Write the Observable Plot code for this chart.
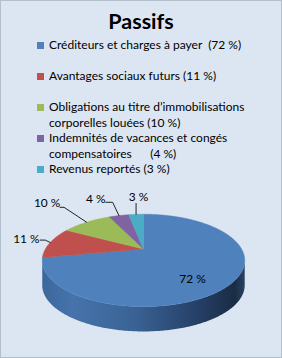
<!DOCTYPE html>
<html><head><meta charset="utf-8">
<script src="https://cdn.jsdelivr.net/npm/d3@7"></script>
<script src="https://cdn.jsdelivr.net/npm/@observablehq/plot@0.6"></script>
<style>
html,body{margin:0;padding:0;background:#fff;}
#frame{position:relative;width:282px;height:358px;box-sizing:border-box;border:1px solid #b4bfcc;background:#dce6f2;font-family:Lato, sans-serif;color:#000;overflow:hidden;}
#title{position:absolute;left:0;width:280px;top:7px;text-align:center;font-weight:bold;font-size:21.5px;line-height:26px;}
.leg{position:absolute;left:36px;font-size:12px;line-height:16px;white-space:pre;}
.sw{position:absolute;left:0;top:2px;width:7px;height:7px;}
.tx{position:absolute;left:12px;top:-3px;}
#chart{position:absolute;left:0;top:180px;}
</style></head>
<body>
<div id="frame">
  <div id="title">Passifs</div>
  <div id="legend"></div>
  <div id="chart"></div>
</div>
<script>
// ---- data ----
const categories = [
  "Créditeurs et charges à payer",
  "Avantages sociaux futurs",
  "Obligations au titre d’immobilisations corporelles louées",
  "Indemnités de vacances et congés compensatoires",
  "Revenus reportés"
];
const shares = [72, 11, 10, 4, 3];
const legendLabels = [
  "Créditeurs et charges à payer  (72 %)",
  "Avantages sociaux futurs (11 %)",
  "Obligations au titre d’immobilisations\ncorporelles louées (10 %)",
  "Indemnités de vacances et congés\ncompensatoires      (4 %)",
  "Revenus reportés (3 %)"
];
const sliceLabels = ["72 %", "11 %", "10 %", "4 %", "3 %"];
const colors = ["#4f81bd", "#c0504d", "#9bbb59", "#8064a2", "#4bacc6"];

// ---- layout (styling only) ----
const legendTops = [39, 70, 101, 132, 163];
const labelOffsets = [[-41, -3], [-24, -3.4], [-39.7, -19], [-23.3, -16.4], [2.5, -17]];
const leaderElbows = [[], [[-10, -2.4], [-5, -2.4]], [[-26.7, -15], [-22.7, -15]], [[-13.3, -13.4], [-6.3, -13.4]], [[0, -11]]];

// legend (HTML)
const leg = d3.select("#legend");
legendLabels.forEach((t, i) => {
  const e = leg.append("div").attr("class", "leg").style("top", legendTops[i] + "px");
  e.append("div").attr("class", "sw").style("background", colors[i]);
  e.append("div").attr("class", "tx").text(t);
});

// pie geometry (perspective ellipse)
const A = 98.8, B = 43.7, K = 0.247, DEPTH = 25, CX = 143, CY = 68;
function proj(t) { const u = Math.sin(t), v = Math.cos(t), d = 1 + K * v; return [A * u / d, B * v / d]; }

const arcs = d3.pie().sort(null).startAngle(0).endAngle(2 * Math.PI)(shares);

const slicePts = [];
arcs.forEach((a, i) => {
  slicePts.push({cat: categories[i], x: 0, y: 0});
  const n = Math.max(2, Math.ceil((a.endAngle - a.startAngle) / 0.01));
  for (let j = 0; j <= n; j++) {
    const t = a.startAngle + (a.endAngle - a.startAngle) * j / n;
    const [x, y] = proj(t);
    slicePts.push({cat: categories[i], x, y});
  }
  slicePts.push({cat: categories[i], x: 0, y: 0});
});

// side band (front half)
const t0 = Math.acos(-K), t1 = 2 * Math.PI - Math.acos(-K);
const sidePts = [];
for (let j = 0; j <= 200; j++) { const [x, y] = proj(t0 + (t1 - t0) * j / 200); sidePts.push({x, y}); }
for (let j = 200; j >= 0; j--) { const [x, y] = proj(t0 + (t1 - t0) * j / 200); sidePts.push({x, y: y - DEPTH}); }

// labels and leaders
const labelPts = [], leaderPts = [];
arcs.forEach((a, i) => {
  const [rx, ry] = proj((a.startAngle + a.endAngle) / 2);
  const [dx, dy] = labelOffsets[i];
  labelPts.push({x: rx + dx, y: ry - dy, text: sliceLabels[i]});
  if (leaderElbows[i].length) {
    leaderElbows[i].forEach(([ex, ey]) => leaderPts.push({k: i, x: rx + ex, y: ry - ey}));
    leaderPts.push({k: i, x: rx, y: ry});
  }
});

const defs = () => {
  const d = d3.create("svg:defs");
  const g = d.append("linearGradient").attr("id", "sideGrad").attr("x1", 0).attr("x2", 1).attr("y1", 0).attr("y2", 0);
  [[0, "#3b679c"], [0.15, "#4673ab"], [0.45, "#3a6395"], [0.75, "#26416a"], [0.95, "#1b2c45"], [1, "#2a4262"]]
    .forEach(([o, c]) => g.append("stop").attr("offset", o).attr("stop-color", c));
  return d.node();
};

const chart = Plot.plot({
  width: 282, height: 170, margin: 0,
  style: {background: "transparent", fontFamily: "Lato, sans-serif"},
  x: {domain: [-A, A], range: [CX - A, CX + A], axis: null},
  y: {domain: [-B, B], range: [CY + B, CY - B], axis: null},
  color: {domain: categories, range: colors},
  marks: [
    defs,
    Plot.line(sidePts, {x: "x", y: "y", fill: "url(#sideGrad)", stroke: "none"}),
    Plot.line(slicePts, {x: "x", y: "y", z: "cat", fill: "cat", stroke: "cat", strokeWidth: 0.5}),
    Plot.line(leaderPts, {x: "x", y: "y", z: "k", stroke: "#222", strokeWidth: 1}),
    Plot.text(labelPts, {x: "x", y: "y", text: "text", fontSize: 12, fill: "#000"})
  ]
});
document.getElementById("chart").appendChild(chart);
</script>
</body></html>
